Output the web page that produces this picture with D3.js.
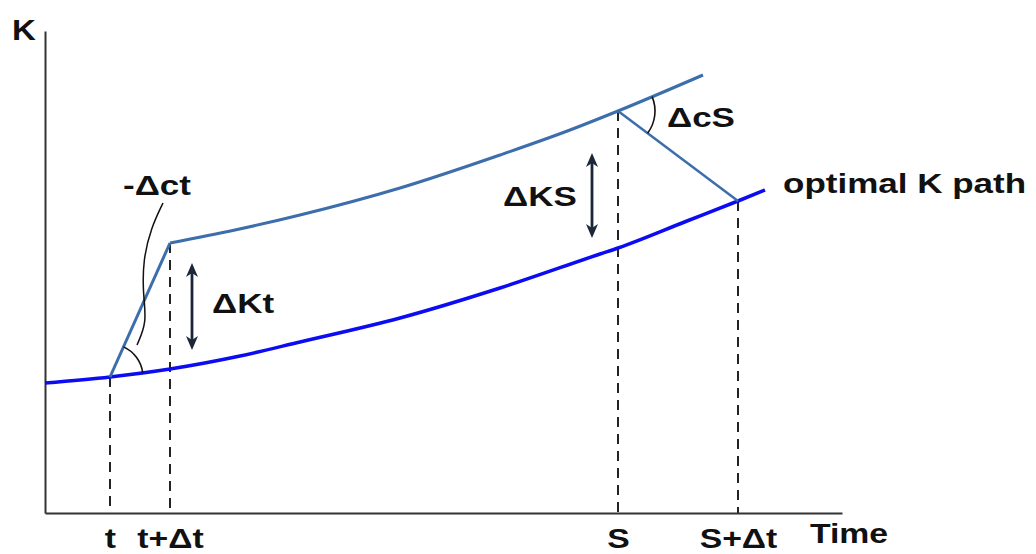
<!DOCTYPE html>
<html>
<head>
<meta charset="utf-8">
<script src="https://cdn.jsdelivr.net/npm/d3@7"></script>
<style>
  html, body { margin: 0; padding: 0; background: #fff; }
  svg { display: block; }
  text { font-family: "Liberation Sans", Arial, sans-serif; font-weight: bold; fill: #111; }
</style>
</head>
<body>
<svg id="chart" width="1036" height="554"></svg>
<script>
// ---- data (abstract units: time on x, capital K on y) ----
const tickLabels = ["t", "t+Δt", "S", "S+Δt"];
const tickTimes  = [65, 125, 573, 693];

// optimal K path (lower curve)
const optimalTime = [0, 65, 125, 195, 255, 355, 455, 555, 573, 642, 693, 720];
const optimalK    = [130, 136, 144, 157, 171, 195, 225, 259, 265, 292, 312, 323];

// jump from t to t+Δt (steep segment)
const jumpTime = [65, 125];
const jumpK    = [136, 270];

// actual path after the jump (upper curve)
const upperTime = [125, 190, 255, 355, 455, 525, 573, 658];
const upperK    = [270, 283, 298, 325, 358, 383, 402, 438];

// return to optimal path from S to S+Δt
const returnTime = [573, 693];
const returnK    = [402, 312];

// double arrows ΔKt and ΔKS
const arrowTime = [147, 547];
const arrowLow  = [163, 275];
const arrowHigh = [250, 360];

// leader line from the "-Δct" label to its angle
const leaderTime = [118, 106, 98, 98, 102, 92];
const leaderK    = [310, 285, 253, 218, 191, 168];

// annotation labels
const noteText = ["-Δct", "ΔKt", "ΔKS", "ΔcS", "optimal K path"];
const noteTime = [78, 167, 458, 622, 738];
const noteK    = [318, 200, 307, 386, 320];

// ---- drawing ----
const svg = d3.select("#chart");
const x = d3.scaleLinear().domain([0, 797]).range([45, 842]);
const y = d3.scaleLinear().domain([0, 482]).range([513, 31]);
const SX = 1.25; // horizontal stretch of lettering
const upperColor = "#3c6eab";
const lowerColor = "#0c0cf2";
const arrowColor = "#1b2639";

const pts = (xs, ys) => xs.map((d, i) => [d, ys[i]]);
const lineLin = d3.line().x(d => x(d[0])).y(d => y(d[1]));
const lineSmooth = d3.line().x(d => x(d[0])).y(d => y(d[1])).curve(d3.curveMonotoneX);
const lineBasis = d3.line().x(d => x(d[0])).y(d => y(d[1])).curve(d3.curveBasis);

// dashed verticals
const dashTop = [136, 270, 402, 312];
svg.append("g").selectAll("line").data(tickTimes).join("line")
  .attr("x1", d => x(d)).attr("x2", d => x(d))
  .attr("y1", (d, i) => y(dashTop[i])).attr("y2", y(0))
  .attr("stroke", "#1a1a1a").attr("stroke-width", 1.9)
  .attr("stroke-dasharray", "10,7");

// axes
const xAxis = d3.axisBottom(x).tickValues(tickTimes)
  .tickFormat((d, i) => tickLabels[i]).tickSize(0).tickSizeOuter(0);
const gx = svg.append("g").attr("transform", `translate(0,${y(0)})`).call(xAxis);
gx.select(".domain").attr("stroke", "#333").attr("stroke-width", 2);
gx.selectAll(".tick text")
  .attr("y", 0).attr("dy", 0)
  .attr("transform", `translate(0,35) scale(${SX},1)`)
  .style("font-size", "27px").style("font-family", "Liberation Sans, Arial, sans-serif")
  .style("font-weight", "bold").attr("fill", "#111");

const yAxis = d3.axisLeft(y).tickValues([]).tickSize(0).tickSizeOuter(0);
const gy = svg.append("g").attr("transform", `translate(${x(0)},0)`).call(yAxis);
gy.select(".domain").attr("stroke", "#333").attr("stroke-width", 2);

// axis titles
svg.append("text").attr("transform", `translate(${x(0) - 33},40) scale(1.1,1)`)
  .style("font-size", "30px").text("K");
svg.append("text").attr("transform", `translate(${x(765)},543) scale(${SX},1)`)
  .style("font-size", "27px").text("Time");

// curves
svg.append("path").attr("d", lineSmooth(pts(optimalTime, optimalK)))
  .attr("fill", "none").attr("stroke", lowerColor).attr("stroke-width", 3.5);
svg.append("path").attr("d", lineLin(pts(jumpTime, jumpK).concat(pts(upperTime, upperK).slice(0, 1))))
  .attr("fill", "none").attr("stroke", upperColor).attr("stroke-width", 3)
  .attr("stroke-linejoin", "round");
svg.append("path").attr("d", lineSmooth(pts(upperTime, upperK)))
  .attr("fill", "none").attr("stroke", upperColor).attr("stroke-width", 3);
svg.append("path").attr("d", lineLin(pts(returnTime, returnK)))
  .attr("fill", "none").attr("stroke", upperColor).attr("stroke-width", 2.5);

// angle arcs
function angleArc(c, p1, p2, r) {
  const a1 = Math.atan2(p1[1] - c[1], p1[0] - c[0]);
  const a2 = Math.atan2(p2[1] - c[1], p2[0] - c[0]);
  const sweep = a2 > a1 ? 1 : 0;
  return `M${c[0] + r * Math.cos(a1)},${c[1] + r * Math.sin(a1)} A${r},${r} 0 0 ${sweep} ${c[0] + r * Math.cos(a2)},${c[1] + r * Math.sin(a2)}`;
}
const P = (t, k) => [x(t), y(k)];
svg.append("path")
  .attr("d", angleArc(P(jumpTime[0], jumpK[0]), P(optimalTime[2], optimalK[2]), P(jumpTime[1], jumpK[1]), 33))
  .attr("fill", "none").attr("stroke", "#111").attr("stroke-width", 1.6);
svg.append("path")
  .attr("d", angleArc(P(returnTime[0], returnK[0]), P(upperTime[7], upperK[7]), P(returnTime[1], returnK[1]), 37))
  .attr("fill", "none").attr("stroke", "#111").attr("stroke-width", 1.6);

// leader line
svg.append("path").attr("d", lineBasis(pts(leaderTime, leaderK)))
  .attr("fill", "none").attr("stroke", "#111").attr("stroke-width", 1.5);

// double arrows
function head(xp, yp, dir) { // dir = -1 up, +1 down
  const L = 14, W = 6, N = 4;
  return `M${xp},${yp} L${xp - W},${yp - dir * L} L${xp},${yp - dir * (L - N)} L${xp + W},${yp - dir * L} Z`;
}
arrowTime.forEach((t, i) => {
  const xp = x(t), y1 = y(arrowHigh[i]), y2 = y(arrowLow[i]);
  svg.append("line").attr("x1", xp).attr("x2", xp).attr("y1", y1 + 6).attr("y2", y2 - 6)
    .attr("stroke", arrowColor).attr("stroke-width", 2.8);
  svg.append("path").attr("d", head(xp, y1, -1)).attr("fill", arrowColor);
  svg.append("path").attr("d", head(xp, y2, 1)).attr("fill", arrowColor);
});

// labels
svg.append("g").selectAll("text").data(noteText).join("text")
  .attr("transform", (d, i) => `translate(${x(noteTime[i])},${y(noteK[i])}) scale(${SX},1)`)
  .style("font-size", "28px").text(d => d);
</script>
</body>
</html>
